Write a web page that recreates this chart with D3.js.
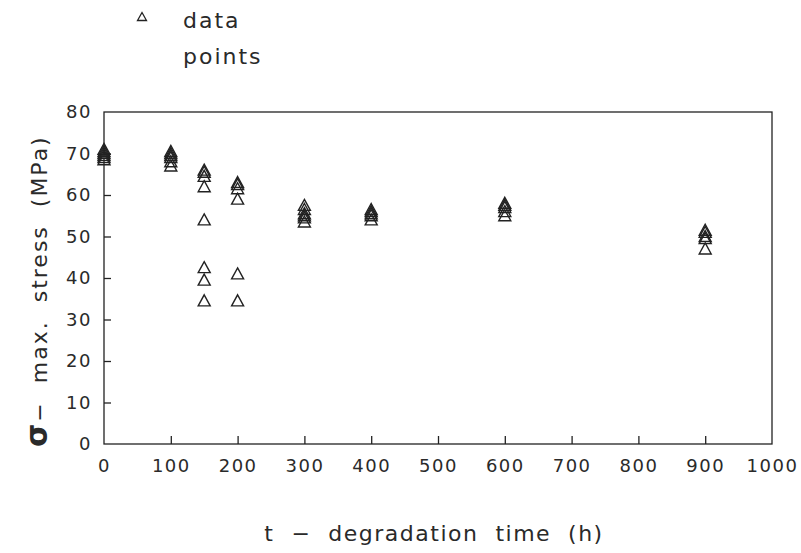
<!DOCTYPE html>
<html>
<head>
<meta charset="utf-8">
<script src="https://cdn.jsdelivr.net/npm/d3@7"></script>
<style>
  body { margin: 0; background: #fff; }
  text { font-family: "DejaVu Sans", sans-serif; fill: #2a2a2a; }
</style>
</head>
<body>
<div id="graph"></div>
<script>
//Degradation time (h) of each measured specimen.
let times = [
  0, 0, 0, 0, 0, 0,
  100, 100, 100, 100, 100, 100,
  150, 150, 150, 150, 150, 150, 150, 150,
  200, 200, 200, 200, 200, 200,
  300, 300, 300, 300, 300, 300,
  400, 400, 400, 400, 400,
  600, 600, 600, 600, 600,
  900, 900, 900, 900, 900
];

//Max. stress (MPa) of the same specimens.
let stresses = [
  71, 70.5, 70, 69.5, 69, 68.5,
  70.5, 70, 69.5, 69, 68, 67,
  66, 65.5, 64.5, 62, 54, 42.5, 39.5, 34.5,
  63, 62.5, 61.5, 59, 41, 34.5,
  57.5, 56.5, 55.5, 55, 54.5, 53.5,
  56.5, 56, 55.5, 55, 54,
  58, 57.5, 57, 56, 55,
  51.5, 51, 50, 49.5, 47
];

let xTicks = [0, 100, 200, 300, 400, 500, 600, 700, 800, 900, 1000];
let yTicks = [0, 10, 20, 30, 40, 50, 60, 70, 80];

let w = 801;
let h = 553;
let plotLeft = 104, plotRight = 772, plotTop = 112, plotBottom = 444;

const svg = d3.select('#graph')
  .append("svg")
  .attr("width", w)
  .attr("height", h);

let xScale = d3.scaleLinear().domain([0, 1000]).range([plotLeft, plotRight]);
let yScale = d3.scaleLinear().domain([0, 80]).range([plotBottom, plotTop]);

//Frame around the plot.
svg.append("rect")
  .attr("x", plotLeft).attr("y", plotTop)
  .attr("width", plotRight - plotLeft).attr("height", plotBottom - plotTop)
  .attr("fill", "none").attr("stroke", "#222").attr("stroke-width", 1.3);

//Bottom axis: ticks point inwards, labels below.
let xAxis = d3.axisBottom(xScale).tickValues(xTicks).tickSize(-8).tickPadding(15)
  .tickFormat(d3.format("d"));
let gx = svg.append("g")
  .attr("transform", "translate(0," + plotBottom + ")")
  .call(xAxis);
gx.select(".domain").remove();
gx.selectAll("line").filter(d => d === 0 || d === 1000).remove();
gx.selectAll("line").attr("stroke", "#222").attr("stroke-width", 1.3);
gx.selectAll("text").attr("font-size", 18).attr("fill", "#2a2a2a")
  .attr("letter-spacing", 1.5)
  .attr("font-family", "DejaVu Sans");

//Left axis: ticks point inwards, labels on the left.
let yAxis = d3.axisLeft(yScale).tickValues(yTicks).tickSize(-7).tickPadding(12);
let gy = svg.append("g")
  .attr("transform", "translate(" + plotLeft + ",0)")
  .call(yAxis);
gy.select(".domain").remove();
gy.selectAll("line").filter(d => d === 0 || d === 80).remove();
gy.selectAll("line").attr("stroke", "#222").attr("stroke-width", 1.3);
gy.selectAll("text").attr("font-size", 18).attr("fill", "#2a2a2a")
  .attr("letter-spacing", 1.5)
  .attr("font-family", "DejaVu Sans");

//Triangle marker path centred at 0,0.
const tri = "M0,-6 L6,5 L-6,5 Z";

svg.append("g").selectAll("path")
  .data(times.map((t, i) => [t, stresses[i]]))
  .enter()
  .append("path")
  .attr("d", tri)
  .attr("transform", d => "translate(" + xScale(d[0]) + "," + yScale(d[1]) + ")")
  .attr("fill", "none")
  .attr("stroke", "#222")
  .attr("stroke-width", 1.4);

//Legend.
svg.append("path")
  .attr("d", "M0,-4.5 L4.5,3.5 L-4.5,3.5 Z")
  .attr("transform", "translate(142,17)")
  .attr("fill", "none").attr("stroke", "#222").attr("stroke-width", 1.3);
svg.append("text").attr("x", 183).attr("y", 28).attr("font-size", 22)
  .attr("letter-spacing", 2).text("data");
svg.append("text").attr("x", 183).attr("y", 64).attr("font-size", 22)
  .attr("letter-spacing", 2).text("points");

//X-axis title.
svg.append("text")
  .attr("x", 434).attr("y", 541)
  .attr("text-anchor", "middle")
  .attr("font-size", 22)
  .attr("letter-spacing", 1.5)
  .attr("xml:space", "preserve")
  .text("t  \u2212  degradation  time  (h)");

//Y-axis title, rotated.
let yt = svg.append("text")
  .attr("transform", "translate(47,447) rotate(-90)")
  .attr("text-anchor", "start")
  .attr("font-size", 22)
  .attr("letter-spacing", 2)
  .attr("xml:space", "preserve");
yt.append("tspan").attr("font-weight", "bold").attr("font-size", 30).text("\u03c3");
yt.append("tspan").text("\u2212  max.  stress  (MPa)");
</script>
</body>
</html>
